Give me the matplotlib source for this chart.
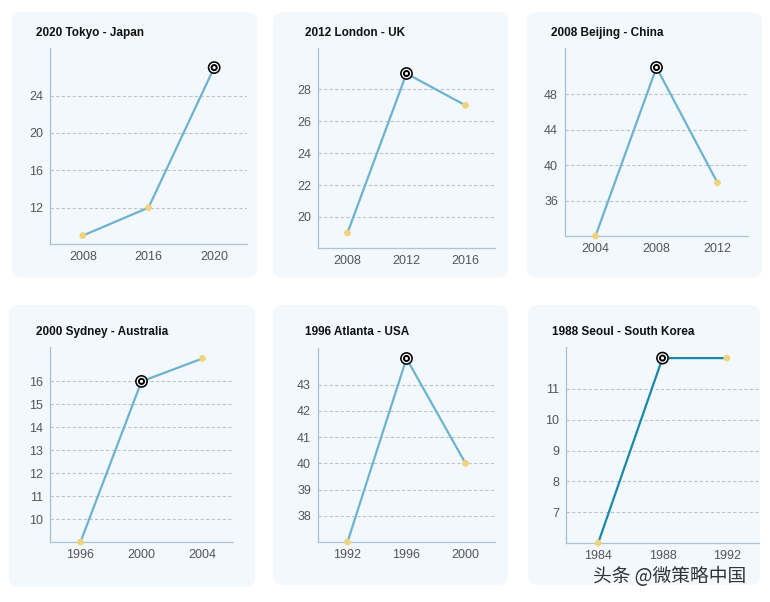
import matplotlib
matplotlib.use('Agg')
import matplotlib.pyplot as plt
from matplotlib.patches import FancyBboxPatch

plt.rcParams['font.family'] = ['Liberation Sans', 'DejaVu Sans']

# medal counts (gold) around each host year
titles = ['2020 Tokyo - Japan', '2012 London - UK', '2008 Beijing - China',
          '2000 Sydney - Australia', '1996 Atlanta - USA', '1988 Seoul - South Korea']
years = [['2008', '2016', '2020'],
         ['2008', '2012', '2016'],
         ['2004', '2008', '2012'],
         ['1996', '2000', '2004'],
         ['1992', '1996', '2000'],
         ['1984', '1988', '1992']]
golds = [[9, 12, 27],
         [19, 29, 27],
         [32, 51, 38],
         [9, 16, 17],
         [37, 44, 40],
         [6, 12, 12]]
host_idx = [2, 1, 1, 1, 1, 1]
yticks = [[12, 16, 20, 24],
          [20, 22, 24, 26, 28],
          [36, 40, 44, 48],
          [10, 11, 12, 13, 14, 15, 16],
          [38, 39, 40, 41, 42, 43],
          [7, 8, 9, 10, 11]]
ylims = [(8.1, 29.1), (18.05, 30.6), (32.0, 53.2),
         (9.0, 17.5), (37.0, 44.4), (6.0, 12.36)]

W, H = 770, 602
fig = plt.figure(figsize=(W / 100, H / 100), dpi=100)
fig.patch.set_facecolor('white')

# panel boxes and axes rectangles in pixels (x0, y0, x1, y1), top-left origin
boxes = [(12, 12, 257, 278), (273, 12, 508, 278), (527, 12, 762, 278),
         (9, 305, 255, 587), (273, 305, 508, 585), (528, 305, 760, 585)]
axrects = [(50, 48, 247, 244), (318, 48, 495, 248), (565, 48, 748, 236),
           (50, 347, 233, 542), (318, 348, 495, 542), (566, 347, 759, 543)]
title_pos = [(36, 33), (305, 33), (551, 33), (36, 332), (305, 332), (552, 332)]
line_colors = ['#6db3cf'] * 5 + ['#1b88a6']

for (x0, y0, x1, y1) in boxes:
    fig.patches.append(FancyBboxPatch((x0 / W, 1 - y1 / H), (x1 - x0) / W, (y1 - y0) / H,
                                      boxstyle='round,pad=0,rounding_size=0.015',
                                      transform=fig.transFigure, facecolor='#f3f8fc',
                                      edgecolor='none', zorder=-5))

for i in range(6):
    x0, y0, x1, y1 = axrects[i]
    ax = fig.add_axes([x0 / W, 1 - y1 / H, (x1 - x0) / W, (y1 - y0) / H])
    ax.set_facecolor('none')
    xs = list(range(len(years[i])))
    ax.plot(xs, golds[i], color=line_colors[i], lw=1.6, zorder=3, clip_on=False)
    others = [j for j in xs if j != host_idx[i]]
    ax.scatter(others, [golds[i][j] for j in others], s=24, color='#f0d37e',
               edgecolors='none', zorder=4, clip_on=False)
    # host year: target-like marker
    h = host_idx[i]
    for size, col, z in [(85, 'black', 5), (48, 'white', 6), (26, 'black', 7), (5, 'white', 8)]:
        ax.scatter([h], [golds[i][h]], s=size, color=col, edgecolors='none',
                   zorder=z, clip_on=False)

    ax.set_xlim(-0.5, len(xs) - 0.5)
    ax.set_ylim(*ylims[i])
    ax.set_xticks(xs)
    ax.set_xticklabels(years[i])
    ax.set_yticks(yticks[i])
    ax.yaxis.grid(True, linestyle=(0, (3, 2)), color='#b9c4cc', lw=0.8)
    ax.set_axisbelow(True)
    ax.tick_params(axis='both', length=0, labelsize=9, labelcolor='#555555', pad=5)
    for s in ['top', 'right']:
        ax.spines[s].set_visible(False)
    ax.spines['left'].set_color('#a9bfcc')
    ax.spines['bottom'].set_color('#a9c6d6')
    ax.spines['left'].set_linewidth(0.9)
    ax.spines['bottom'].set_linewidth(0.9)

    tx, ty = title_pos[i]
    fig.text(tx / W, 1 - ty / H, titles[i], fontsize=8.5, fontweight='bold',
             color='#111111', va='center', ha='left')

fig.text(593 / W, 1 - 577 / H, '头条 @微策略中国', fontsize=13.5, color='#333333',
         family=['Noto Sans CJK SC', 'DejaVu Sans'], va='center', ha='left')

fig.savefig('out.png', dpi=100)
